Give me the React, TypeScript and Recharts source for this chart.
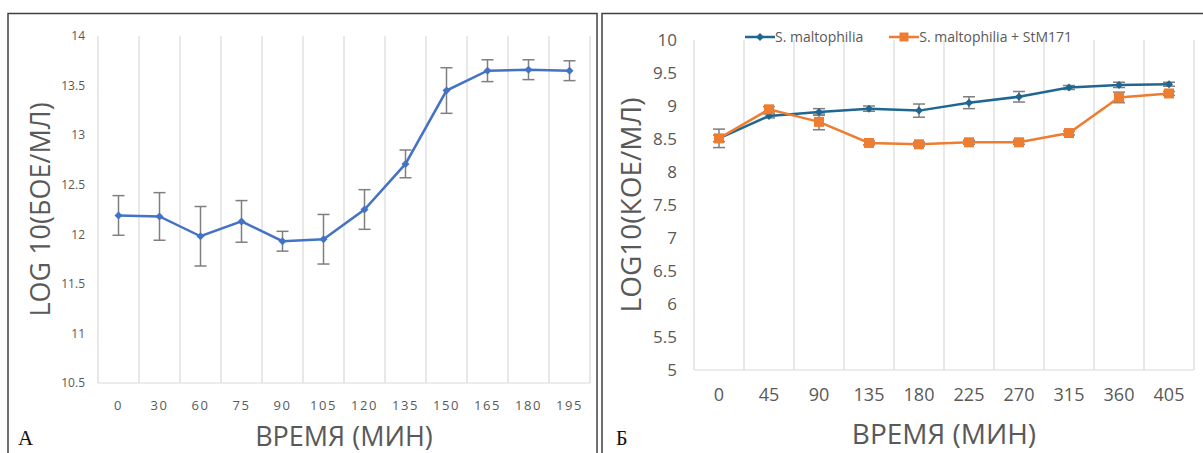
import React from "react";
import {
  LineChart,
  Line,
  XAxis,
  YAxis,
  CartesianGrid,
  ErrorBar,
  Legend,
  Label,
} from "recharts";

// panel A: phage titre
const timesA = ["0", "30", "60", "75", "90", "105", "120", "135", "150", "165", "180", "195"];
const logPfu = [12.19, 12.18, 11.98, 12.13, 11.93, 11.95, 12.25, 12.71, 13.45, 13.65, 13.66, 13.65];
const errPfu = [0.2, 0.24, 0.3, 0.21, 0.1, 0.25, 0.2, 0.14, 0.23, 0.11, 0.1, 0.1];
const ticksA = [10.5, 11, 11.5, 12, 12.5, 13, 13.5, 14];

// panel Б: bacteria with / without phage
const timesB = ["0", "45", "90", "135", "180", "225", "270", "315", "360", "405"];
const logMalto = [8.51, 8.85, 8.91, 8.96, 8.93, 9.05, 9.14, 9.28, 9.32, 9.33];
const errMalto = [0.05, 0.03, 0.05, 0.04, 0.1, 0.09, 0.08, 0.03, 0.04, 0.03];
const logPhage = [8.51, 8.95, 8.76, 8.44, 8.42, 8.45, 8.45, 8.59, 9.13, 9.19];
const errPhage = [0.14, 0.04, 0.12, 0.03, 0.03, 0.03, 0.03, 0.03, 0.08, 0.03];
const ticksB = [5, 5.5, 6, 6.5, 7, 7.5, 8, 8.5, 9, 9.5, 10];

const dataA = timesA.map((t, i) => ({ t, v: logPfu[i], e: errPfu[i] }));
const dataB = timesB.map((t, i) => ({
  t,
  m: logMalto[i],
  me: errMalto[i],
  p: logPhage[i],
  pe: errPhage[i],
}));

const FONT = "'Open Sans', 'Noto Sans', sans-serif";
const GRID = "#d9d9d9";
const TEXT = "#595959";
const BLUE_A = "#4472C4";
const BLUE_B = "#1F6791";
const ORANGE = "#ED7D31";
const ERR = "#7f7f7f";

// vertical lines on category boundaries (excel style)
const bandLines =
  (n: number) =>
  ({ offset }: any) =>
    Array.from({ length: n + 1 }, (_, i) => offset.left + (i * offset.width) / n);

const diamond = (color: string, r: number) => (props: any) => {
  const { cx, cy, index } = props;
  if (cx == null || cy == null) return <g key={index} />;
  return (
    <path
      key={index}
      d={`M${cx},${cy - r}L${cx + r},${cy}L${cx},${cy + r}L${cx - r},${cy}Z`}
      fill={color}
    />
  );
};

const square = (color: string, s: number) => (props: any) => {
  const { cx, cy, index } = props;
  if (cx == null || cy == null) return <g key={index} />;
  return <rect key={index} x={cx - s / 2} y={cy - s / 2} width={s} height={s} fill={color} />;
};

const LegendB = ({ payload }: any) => (
  <div style={{ display: "flex", alignItems: "center", fontFamily: FONT, fontSize: 14, color: TEXT, whiteSpace: "nowrap" }}>
    {(payload || []).map((item: any, i: number) => (
      <div key={i} style={{ display: "flex", alignItems: "center", marginRight: 26 }}>
        <svg width={30} height={14}>
          <line x1={0} y1={7} x2={30} y2={7} stroke={item.color} strokeWidth={2.5} />
          {item.dataKey === "p" ? (
            <rect x={10.5} y={2.5} width={9} height={9} fill={item.color} />
          ) : (
            <path d="M15,3L19,7L15,11L11,7Z" fill={item.color} />
          )}
        </svg>
        <span>{item.value}</span>
      </div>
    ))}
  </div>
);

export default function App() {
  return (
    <div
      style={{
        position: "absolute",
        left: 0,
        top: 0,
        width: 1203,
        height: 453,
        background: "#fff",
        overflow: "hidden",
        fontFamily: FONT,
      }}
    >
      <svg width={1203} height={453} style={{ position: "absolute", left: 0, top: 0 }}>
        <rect x={8} y={13.5} width={589} height={460} fill="none" stroke="#404040" strokeWidth={1.5} />
        <rect x={602} y={13.5} width={620} height={460} fill="none" stroke="#404040" strokeWidth={1.5} />
        <text x={18} y={445} fontFamily="'Liberation Serif', serif" fontSize={21} fill="#111">
          А
        </text>
        <text x={616} y={445} fontFamily="'Liberation Serif', serif" fontSize={20} fill="#111">
          Б
        </text>
      </svg>

      <div style={{ position: "absolute", left: 0, top: 0 }}>
        <LineChart width={600} height={453} data={dataA} margin={{ top: 36, right: 10, bottom: 0, left: 0 }}>
          <CartesianGrid
            horizontal={false}
            stroke={GRID}
            strokeWidth={1.2}
            verticalCoordinatesGenerator={bandLines(timesA.length)}
          />
          <XAxis
            dataKey="t"
            height={70}
            padding={{ left: 20.5, right: 20.5 }}
            axisLine={{ stroke: GRID, strokeWidth: 1.2 }}
            tickLine={false}
            tickMargin={12}
            interval={0}
            tick={{ fontSize: 13, fill: TEXT, letterSpacing: 1.5 }}
          >
            <Label
              value="ВРЕМЯ (МИН)"
              position="insideBottom"
              offset={7}
              style={{ fontSize: 27, fill: TEXT }}
            />
          </XAxis>
          <YAxis
            width={98}
            domain={[10.5, 14]}
            ticks={ticksA}
            axisLine={false}
            tickLine={false}
            tickMargin={7}
            tick={{ fontSize: 12, fill: TEXT }}
          >
            <Label
              value="LOG 10(БОЕ/МЛ)"
              angle={-90}
              position="insideLeft"
              offset={40}
              style={{ fontSize: 27, fill: TEXT, textAnchor: "middle" }}
            />
          </YAxis>
          <Line
            dataKey="v"
            stroke={BLUE_A}
            strokeWidth={2.5}
            dot={diamond(BLUE_A, 4)}
            activeDot={false}
            isAnimationActive={false}
          >
            <ErrorBar dataKey="e" direction="y" width={6} stroke={ERR} strokeWidth={1.5} />
          </Line>
        </LineChart>
      </div>

      <div style={{ position: "absolute", left: 600, top: 0 }}>
        <LineChart width={603} height={453} data={dataB} margin={{ top: 40, right: 9, bottom: 0, left: 0 }}>
          <CartesianGrid
            horizontal={false}
            stroke={GRID}
            strokeWidth={1.2}
            verticalCoordinatesGenerator={bandLines(timesB.length)}
          />
          <XAxis
            dataKey="t"
            height={83}
            padding={{ left: 25, right: 25 }}
            axisLine={{ stroke: GRID, strokeWidth: 1.2 }}
            tickLine={false}
            tickMargin={12}
            interval={0}
            tick={{ fontSize: 18, fill: TEXT }}
          >
            <Label
              value="ВРЕМЯ (МИН)"
              position="insideBottom"
              offset={9}
              style={{ fontSize: 28, fill: TEXT }}
            />
          </XAxis>
          <YAxis
            width={94}
            domain={[5, 10]}
            ticks={ticksB}
            axisLine={false}
            tickLine={false}
            tickMargin={11}
            tick={{ fontSize: 17, fill: TEXT }}
          >
            <Label
              value="LOG10(КОЕ/МЛ)"
              angle={-90}
              position="insideLeft"
              offset={31}
              style={{ fontSize: 28, fill: TEXT, textAnchor: "middle" }}
            />
          </YAxis>
          <Legend
            layout="horizontal"
            verticalAlign="middle"
            align="center"
            content={<LegendB />}
            wrapperStyle={{ top: 27, left: 145, width: "auto", height: 20 }}
          />
          <Line
            dataKey="m"
            name="S. maltophilia"
            stroke={BLUE_B}
            strokeWidth={2.5}
            dot={diamond(BLUE_B, 4)}
            activeDot={false}
            isAnimationActive={false}
          >
            <ErrorBar dataKey="me" direction="y" width={6} stroke={ERR} strokeWidth={1.5} />
          </Line>
          <Line
            dataKey="p"
            name="S. maltophilia + StM171"
            stroke={ORANGE}
            strokeWidth={2.5}
            dot={square(ORANGE, 10)}
            activeDot={false}
            isAnimationActive={false}
          >
            <ErrorBar dataKey="pe" direction="y" width={6} stroke={ERR} strokeWidth={1.5} />
          </Line>
        </LineChart>
      </div>
    </div>
  );
}
